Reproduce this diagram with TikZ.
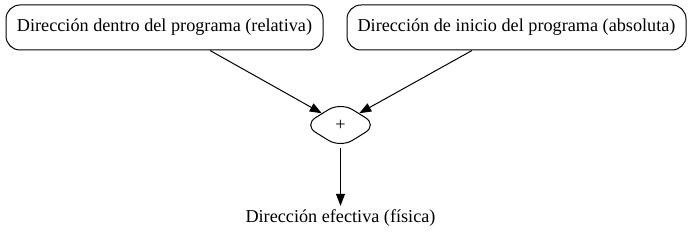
\documentclass[tikz,border=0pt]{standalone}
\usepackage{fontspec}
\setmainfont{Liberation Serif}
\usetikzlibrary{shapes.geometric,arrows.meta}
\begin{document}
\begin{tikzpicture}[x=1pt, y=1pt, line width=1pt, >={Triangle[length=12pt,width=9pt]}, ->, font=\fontsize{18.2}{21}\selectfont]
		\tikzstyle{caja} = [draw, rounded corners=14pt, minimum height=45pt, inner xsep=0pt, minimum width=317pt]
		\tikzstyle{suma} = [draw, diamond, aspect=1.6, rounded corners=14pt, minimum width=74pt, minimum height=46pt, inner sep=0pt]
		\useasboundingbox (0,0) rectangle (693,251);
		\node[caja](rel) at (164.5,223.5) {Dirección dentro del programa (relativa)};
		\node[caja, minimum width=339pt](abs) at (516.5,223.5) {Dirección de inicio del programa (absoluta)};
		\node[suma](mas) at (340.5,126) {+};
		\node(efe) at (340.5,33) {Dirección efectiva (física)};
		\path  (rel.south -| 210,0) edge (mas.north west);
		\path  (abs.south -| 472,0) edge (mas.north east);
		\path  (mas) edge (efe);
	\end{tikzpicture}
\end{document}
